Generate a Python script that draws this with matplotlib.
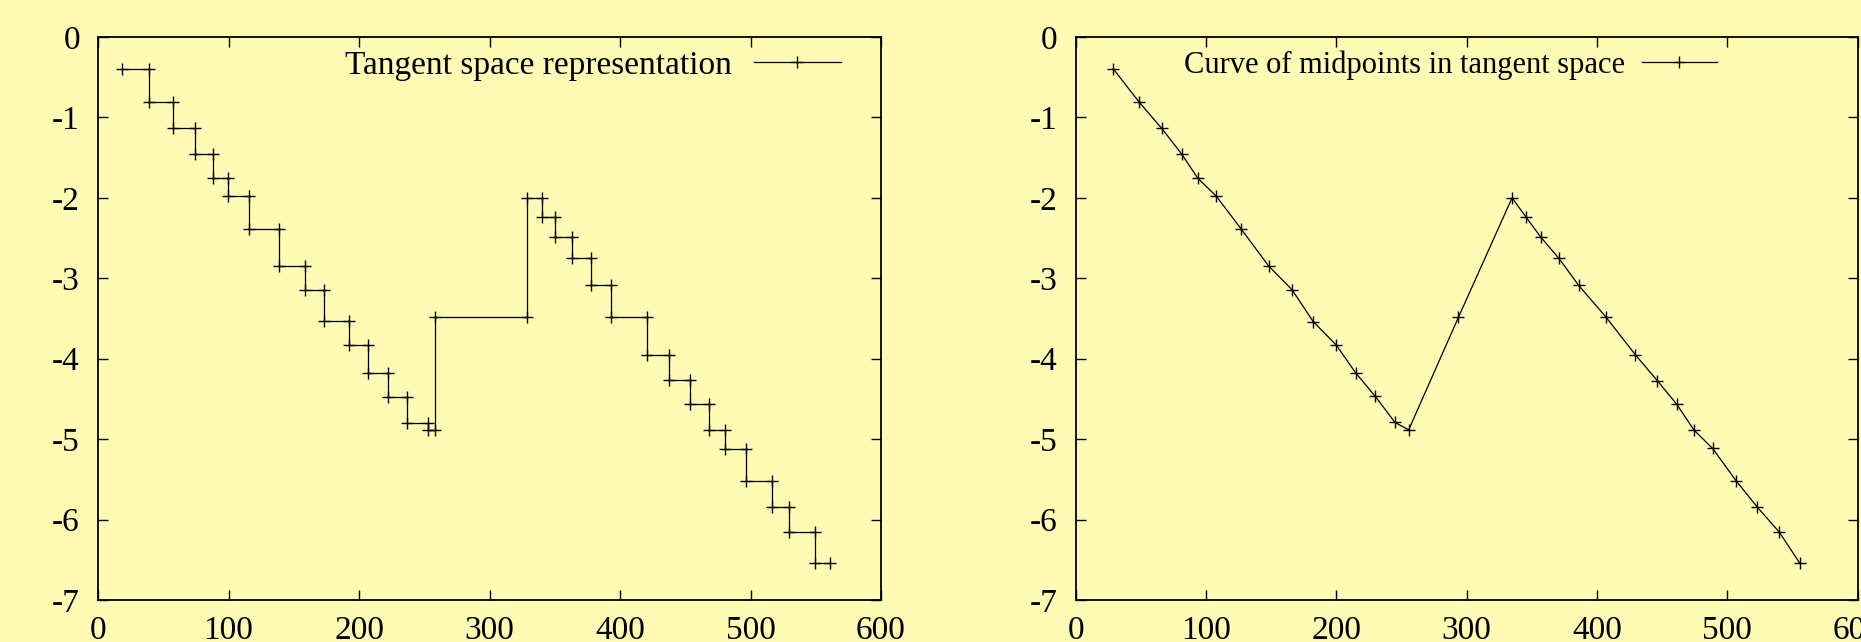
import matplotlib
matplotlib.use("Agg")
import matplotlib.pyplot as plt
import matplotlib.ticker as ticker

# left panel: step edges (32) and level of each step (31)
step_edges = [18.2, 39.3, 57.7, 74.6, 87.9, 99.4, 116.0, 138.4, 158.4, 173.4,
              192.0, 207.1, 222.5, 236.8, 252.6, 258.2, 328.5, 340.5, 350.2, 363.5,
              377.8, 393.1, 420.4, 437.8, 453.6, 468.2, 480.5, 496.3, 516.7, 529.2,
              549.2, 561.2]
step_levels = [-0.40, -0.81, -1.136, -1.455, -1.754, -1.978, -2.384, -2.848, -3.143, -3.535,
               -3.828, -4.178, -4.472, -4.795, -4.887, -3.485, -2.0, -2.239, -2.488, -2.753,
               -3.086, -3.487, -3.949, -4.27, -4.565, -4.89, -5.118, -5.522, -5.844, -6.159,
               -6.544]

# right panel: midpoints
mid_x = [28.9, 48.6, 66.0, 81.3, 93.6, 107.9, 126.8, 148.1, 166.0, 182.3,
         199.7, 214.8, 229.9, 245.0, 255.5, 293.6, 334.8, 345.5, 356.8, 370.8,
         385.9, 407.1, 429.4, 446.3, 461.1, 474.4, 488.7, 506.9, 523.0, 539.9,
         555.7]
mid_y = [-0.398, -0.808, -1.136, -1.455, -1.754, -1.98, -2.384, -2.848, -3.143, -3.54,
         -3.826, -4.175, -4.469, -4.793, -4.884, -3.487, -2.0, -2.239, -2.488, -2.753,
         -3.088, -3.487, -3.951, -4.274, -4.565, -4.888, -5.116, -5.522, -5.846, -6.157,
         -6.546]

x_ticks = [0, 100, 200, 300, 400, 500, 600]
y_ticks = [0, -1, -2, -3, -4, -5, -6, -7]

BG = "#fffab4"
plt.rcParams["font.family"] = ["Liberation Serif", "DejaVu Serif"]
plt.rcParams["axes.unicode_minus"] = False

fig = plt.figure(figsize=(18.61, 6.42), dpi=100, facecolor=BG)
ax_l = fig.add_axes([98 / 1861, 42 / 642, 783 / 1861, 563 / 642])
ax_r = fig.add_axes([1075.7 / 1861, 42 / 642, 782 / 1861, 563 / 642])

# corners of the step curve
sx, sy = [], []
for i, lev in enumerate(step_levels):
    sx += [step_edges[i], step_edges[i + 1]]
    sy += [lev, lev]

style = dict(color="black", lw=0.9, marker="+", ms=8, mew=1.0)
ax_l.plot(sx, sy, label="Tangent space representation", **style)
ax_r.plot(mid_x, mid_y, label="Curve of midpoints in tangent space", **style)

legends = [(ax_l, 0.9485, 2.6, 0.65, 24), (ax_r, 0.8197, 2.45, 0.55, 22)]
for ax, anchor_x, hl, htp, fs in legends:
    ax.set_facecolor(BG)
    ax.set_xlim(0, 600)
    ax.set_ylim(-7, 0)
    ax.set_xticks(x_ticks)
    ax.set_yticks(y_ticks)
    ax.xaxis.set_major_formatter(ticker.FuncFormatter(lambda v, _: f"{int(v)}"))
    ax.yaxis.set_major_formatter(ticker.FuncFormatter(lambda v, _: f"{int(round(v))}"))
    ax.tick_params(axis="both", direction="in", top=True, right=True,
                   length=7, width=1.0, labelsize=24)
    ax.tick_params(axis="y", pad=13)
    ax.tick_params(axis="x", pad=11)
    for s in ax.spines.values():
        s.set_linewidth(1.3)
    ax.legend(loc="upper right", bbox_to_anchor=(anchor_x, 0.976), frameon=False,
              markerfirst=False, fontsize=fs, borderpad=0, borderaxespad=0,
              handlelength=hl, handletextpad=htp)

fig.savefig("out.png", dpi=100, facecolor=BG)
